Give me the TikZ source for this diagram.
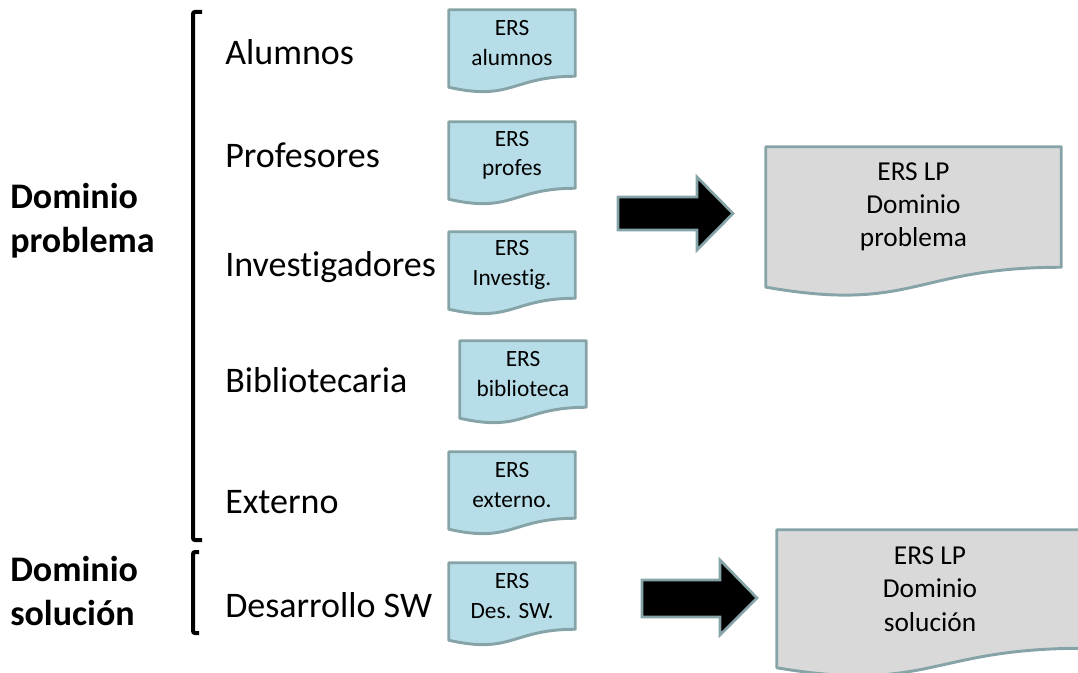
\documentclass[tikz,border=0pt]{standalone}
\usepackage{fontspec}
\setmainfont[Ligatures={NoCommon,NoDiscretionary}]{Carlito}
\usetikzlibrary{calc,backgrounds}

\definecolor{docblue}{RGB}{183,222,232}
\definecolor{docgray}{RGB}{217,217,217}
\definecolor{rimcol}{RGB}{134,164,168}

% document outline: flat top, wavy bottom below the node's text box
\newcommand\docoutline[2]{%
  \draw[#2] (#1.north west) -- (#1.north east) -- (#1.south east)
    .. controls (#1.south) and ($(#1.north)!1.381!(#1.south)$)
    .. ($(#1.north west)!1.1646!(#1.south west)$) -- cycle;}

\tikzset{
  x=0.75pt, y=-0.75pt,
  lbl/.style={anchor=west, inner sep=0pt, font=\fontsize{27}{33}\selectfont},
  domlbl/.style={anchor=west, inner sep=0pt, align=left,
    font=\fontsize{27}{33}\selectfont\bfseries},
  smalldoc/.style={inner sep=0pt, align=center, minimum width=94.5pt,
    minimum height=49.5pt, font=\fontsize{17.5}{22}\selectfont},
  bigdoc/.style={inner sep=0pt, align=center,
    font=\fontsize{20.5}{25}\selectfont},
  bluefill/.style={draw=rimcol, line width=2.2pt, fill=docblue, line join=round},
  grayfill/.style={draw=rimcol, line width=2.2pt, fill=docgray, line join=round},
  fatarrow/.style={draw=rimcol, line width=2pt, fill=black, line join=miter},
  bracket/.style={draw=black, line width=3pt, rounded corners=1.5pt}
}

\begin{document}
\begin{tikzpicture}
\useasboundingbox (0,0) rectangle (1078,673);

% domain labels
\node[domlbl] (dprob) at (10,221) {Dominio\\problema};
\node[domlbl] (dsol) at (10,591) {Dominio\\solución};

% brackets
\draw[bracket] (202,12) -- (193,12) -- (193,540) -- (202,540);
\draw[bracket] (199,552) -- (193,552) -- (193,633) -- (199,633);

% stakeholders
\node[lbl] (alu) at (225,52) {Alumnos};
\node[lbl] (pro) at (225,155) {Profesores};
\node[lbl] (inv) at (225,267) {Investigadores};
\node[lbl] (bib) at (225,380) {Bibliotecaria};
\node[lbl] (ext) at (225,502) {Externo};
\node[lbl] (dsw) at (225,605) {Desarrollo SW};

% requirement documents per stakeholder
\node[smalldoc] (ealu) at (512,43)  {ERS\\alumnos};
\node[smalldoc] (epro) at (512,155) {ERS\\profes};
\node[smalldoc] (einv) at (512,265) {ERS\\Investig.};
\node[smalldoc] (ebib) at (523,374) {ERS\\biblioteca};
\node[smalldoc] (eext) at (512,485) {ERS\\externo.};
\node[smalldoc] (edsw) at (512,596) {ERS\\Des. SW.};

% merged documents
\node[bigdoc, minimum width=221.25pt, minimum height=90pt] (lpprob) at (913.5,207)
  {ERS LP\\Dominio\\problema};
\node[bigdoc, minimum width=229.5pt, minimum height=88.5pt] (lpsol) at (930,589)
  {ERS LP\\Dominio\\solución};

\begin{scope}[on background layer]
  \foreach \d in {ealu,epro,einv,ebib,eext,edsw} {\docoutline{\d}{bluefill}}
  \docoutline{lpprob}{grayfill}
  \docoutline{lpsol}{grayfill}
\end{scope}

% block arrows
\draw[fatarrow] (618,197) -- (697,197) -- (697,177) -- (733,213.5)
  -- (697,250) -- (697,230) -- (618,230) -- cycle;
\draw[fatarrow] (642,580) -- (720,580) -- (720,560) -- (757,598)
  -- (720,635) -- (720,617) -- (642,617) -- cycle;
\end{tikzpicture}
\end{document}
